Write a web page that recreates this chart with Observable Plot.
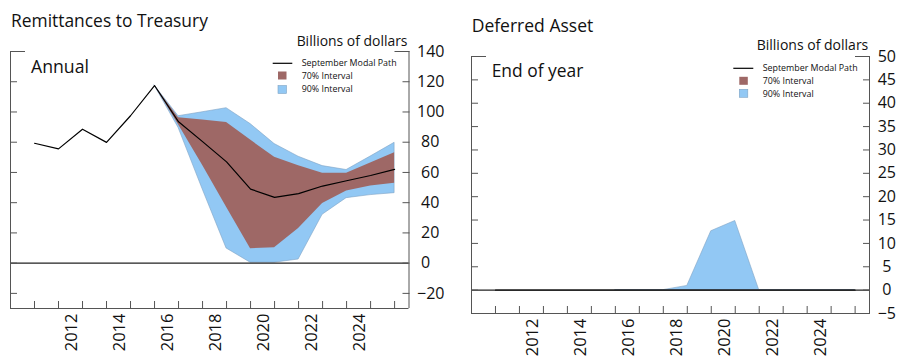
<!DOCTYPE html>
<html>
<head>
<meta charset="utf-8">
<script src="https://cdn.jsdelivr.net/npm/d3@7"></script>
<script src="https://cdn.jsdelivr.net/npm/@observablehq/plot@0.6"></script>
<style>
  body { margin: 0; background: #fff; }
  #wrap { position: relative; width: 903px; height: 361px; overflow: hidden; background: #fff; }
  #left, #right, #ann { position: absolute; top: 0; }
  #left { left: 0; }
  #right { left: 450px; }
  #ann { left: 0; pointer-events: none; }
  svg text { font-family: "Open Sans", sans-serif; }
</style>
</head>
<body>
<div id="wrap">
  <div id="left"></div>
  <div id="right"></div>
  <svg id="ann" width="903" height="361"></svg>
</div>
<script>
// ---------------- data ----------------
// Annual values, plotted at year end
const years = [2010, 2011, 2012, 2013, 2014, 2015, 2016, 2017, 2018, 2019, 2020, 2021, 2022, 2023, 2024, 2025];
const projYears = [2015, 2016, 2017, 2018, 2019, 2020, 2021, 2022, 2023, 2024, 2025];

// Remittances to Treasury (billions of dollars)
const remitModal = [79.3, 75.6, 88.6, 79.9, 97.5, 117.5, 93.5, 80.4, 67.0, 49.0, 43.5, 46.0, 51.0, 54.5, 58.0, 62.0];
const remitLo90  = [117.5, 89.5, 49.0, 9.7, 0.3, 0.3, 2.4, 32.0, 43.0, 45.0, 46.3];
const remitHi90  = [117.5, 97.2, 99.8, 102.5, 92.0, 78.8, 70.4, 64.2, 61.6, 70.5, 79.6];
const remitLo70  = [117.5, 91.5, 64.7, 37.0, 9.5, 10.2, 23.0, 39.5, 47.7, 51.0, 52.8];
const remitHi70  = [117.5, 96.2, 94.7, 93.1, 81.4, 70.0, 64.4, 59.4, 59.4, 66.2, 73.0];

// Deferred asset, end of year (billions of dollars)
const defModal = [0, 0, 0, 0, 0, 0, 0, 0, 0, 0, 0, 0, 0, 0, 0, 0];
const defLo90  = [0, 0, 0, 0, 0, 0, 0, 0, 0, 0, 0];
const defHi90  = [0, 0, 0, 0.9, 12.6, 14.8, 0, 0, 0, 0, 0];
const defLo70  = [0, 0, 0, 0, 0, 0, 0, 0, 0, 0, 0];
const defHi70  = [0, 0, 0, 0, 0, 0, 0, 0, 0, 0, 0];

// axes
const xTickYears = [2011, 2012, 2013, 2014, 2015, 2016, 2017, 2018, 2019, 2020, 2021, 2022, 2023, 2024, 2025, 2026];
const xLabels = ["2012", "2014", "2016", "2018", "2020", "2022", "2024"];
const remitYTicks = [-20, 0, 20, 40, 60, 80, 100, 120, 140];
const defYTicks = [-5, 0, 5, 10, 15, 20, 25, 30, 35, 40, 45, 50];

const legendLabels = ["September Modal Path", "70% Interval", "90% Interval"];

// ---------------- style ----------------
const BLUE = "#92c8f4";
const BLUE_EDGE = "#7fa3c4";
const BROWN = "#9e6866";
const FRAME = "#555";
const xDomain = [2010, 2026.6];

const fmt = d => d < 0 ? "\u2212" + Math.abs(d) : String(d);

function buildPanel(cfg) {
  const modalData = years.map((y, i) => ({year: y, v: cfg.modal[i]}));
  const band = projYears.map((y, i) => ({year: y, lo90: cfg.lo90[i], hi90: cfg.hi90[i], lo70: cfg.lo70[i], hi70: cfg.hi70[i]}));
  const X = d => d.year + 1; // annual values sit at the year-end boundary
  const yTop = cfg.yDomain[1];
  const inner = cfg.yTicks.filter(t => t !== yTop);
  const marks = [
    Plot.areaY(band, {x: X, y1: "lo90", y2: "hi90", fill: BLUE, stroke: BLUE_EDGE, strokeWidth: 0.6}),
    Plot.areaY(band, {x: X, y1: "lo70", y2: "hi70", fill: BROWN}),
    Plot.line(modalData, {x: X, y: "v", stroke: "#000", strokeWidth: 1.2}),
    Plot.ruleY([0], {stroke: "#222", strokeWidth: 1.4}),
    Plot.ruleX(xDomain, {stroke: FRAME}),
    Plot.ruleY([cfg.yDomain[0]], {stroke: FRAME}),
    Plot.axisY(inner, {anchor: "left", tickSize: 7, dx: 7, fill: "none", label: null, stroke: FRAME}),
    Plot.axisY(inner, {anchor: "right", tickSize: 7, dx: -7, fill: "none", label: null, stroke: FRAME}),
    Plot.axisY([yTop], {anchor: "left", tickSize: 15, dx: 15, fill: "none", label: null, stroke: FRAME}),
    Plot.axisY([yTop], {anchor: "right", tickSize: 15, dx: -15, fill: "none", label: null, stroke: FRAME}),
    Plot.axisX(xTickYears, {anchor: "bottom", tickSize: 7, dy: -7, fill: "none", label: null, stroke: FRAME}),
    Plot.axisX(xLabels.map(s => +s + 0.5), {
      anchor: "bottom", tickSize: 0, tickPadding: 5, tickRotate: -90,
      textAnchor: "end", lineAnchor: "middle", dx: 1.5,
      tickFormat: d => xLabels[xLabels.indexOf(String(d - 0.5))],
      fontFamily: "Liberation Sans", fontSize: 16.5, fill: "#111", label: null
    })
  ];
  cfg.yLabelGroups.forEach(g => {
    marks.push(Plot.axisY(g.ticks, {
      anchor: "right", tickSize: 0, tickPadding: g.pad, textAnchor: g.anchor,
      tickFormat: fmt, fontFamily: "Open Sans", fontSize: 16, fill: "#111", label: null
    }));
  });
  return Plot.plot({
    width: cfg.width, height: 361,
    marginTop: cfg.mt, marginBottom: cfg.mb, marginLeft: cfg.ml, marginRight: cfg.mr,
    x: {domain: xDomain, axis: null},
    y: {domain: cfg.yDomain, axis: null},
    style: {background: "transparent", overflow: "visible", fontFamily: "Open Sans"},
    marks
  });
}

const remitWide = remitYTicks.filter(t => fmt(t).length >= 3);
const remitNarrow = remitYTicks.filter(t => fmt(t).length < 3);

document.getElementById("left").append(buildPanel({
  width: 450, ml: 10, mr: 41.5, mt: 51, mb: 53,
  yDomain: [-30, 140], yTicks: remitYTicks,
  modal: remitModal, lo90: remitLo90, hi90: remitHi90, lo70: remitLo70, hi70: remitHi70,
  yLabelGroups: [
    {ticks: remitWide, pad: 8, anchor: "start"},
    {ticks: remitNarrow, pad: 12, anchor: "start"}
  ]
}));

document.getElementById("right").append(buildPanel({
  width: 453, ml: 21, mr: 34, mt: 56, mb: 48,
  yDomain: [-5, 50], yTicks: defYTicks,
  modal: defModal, lo90: defLo90, hi90: defHi90, lo70: defLo70, hi70: defHi70,
  yLabelGroups: [
    {ticks: defYTicks, pad: 17.3, anchor: "middle"}
  ]
}));

// ---------------- annotations (titles, units, legends) ----------------
const ann = d3.select("#ann");
function fitText(str, x, y, targetW, anchor = "start", size = 16) {
  const t = ann.append("text").attr("x", x).attr("y", y).attr("text-anchor", anchor)
    .attr("font-size", size).attr("fill", "#111").text(str);
  const w = t.node().getComputedTextLength();
  if (w > 0) t.attr("font-size", size * targetW / w);
  return t;
}

// Left panel
fitText("Remittances to Treasury", 11, 27.3, 197);
fitText("Billions of dollars", 407.5, 46, 111, "end");
fitText("Annual", 31, 72.7, 58);
// Right panel
fitText("Deferred Asset", 471.7, 32.3, 121.7);
fitText("Billions of dollars", 868.3, 50, 111.7, "end");
fitText("End of year", 491.7, 77.3, 91.7);

function legend(lineX0, lineX1, sqX, textX, rows, sqRows) {
  ann.append("line").attr("x1", lineX0).attr("x2", lineX1).attr("y1", rows[0]).attr("y2", rows[0])
    .attr("stroke", "#000").attr("stroke-width", 1.2);
  ann.append("rect").attr("x", sqX).attr("y", sqRows[0] - 4).attr("width", 8.5).attr("height", 8)
    .attr("fill", BROWN);
  ann.append("rect").attr("x", sqX).attr("y", sqRows[1] - 4).attr("width", 8.5).attr("height", 8)
    .attr("fill", BLUE).attr("stroke", BLUE_EDGE).attr("stroke-width", 0.6);
  const first = fitText(legendLabels[0], textX, rows[0], 95);
  const fs = +first.attr("font-size");
  first.attr("y", rows[0] + 0.36 * fs);
  for (let i = 1; i < 3; i++) {
    ann.append("text").attr("x", textX).attr("y", rows[i] + 0.36 * fs).attr("font-size", fs)
      .attr("fill", "#111").text(legendLabels[i]);
  }
}
legend(272.7, 292.3, 278, 301.7, [63.3, 75.7, 89], [75.5, 89.5]);
legend(733.3, 753.3, 739.3, 762.7, [68.3, 81, 93.7], [80.8, 93.3]);
</script>
</body>
</html>
